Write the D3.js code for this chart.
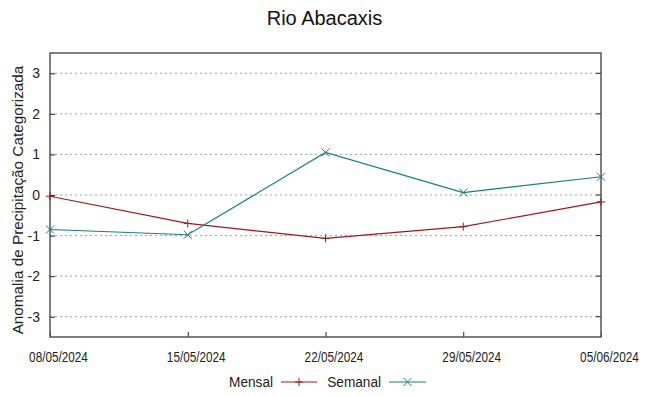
<!DOCTYPE html>
<html>
<head>
<meta charset="utf-8">
<script src="https://cdn.jsdelivr.net/npm/d3@7"></script>
<style>
  body { margin: 0; background: #fff; }
  svg { display: block; font-family: "Liberation Sans", Arial, sans-serif; }
</style>
</head>
<body>
<div id="chart"></div>
<script>
// Data
const dates = ['08/05/2024', '15/05/2024', '22/05/2024', '29/05/2024', '05/06/2024'];
const mensal = [-0.03, -0.70, -1.07, -0.78, -0.17];
const semanal = [-0.85, -0.98, 1.05, 0.06, 0.45];
const yTicks = [-3, -2, -1, 0, 1, 2, 3];

const width = 649, height = 396;
const margin = { top: 53, right: 48, bottom: 59, left: 50 };

const svg = d3.select('#chart').append('svg')
  .attr('width', width).attr('height', height);

const x = d3.scalePoint().domain(dates).range([margin.left, width - margin.right]);
const y = d3.scaleLinear().domain([-3.5, 3.5]).range([height - margin.bottom, margin.top]);

// Grid
svg.append('g').selectAll('line').data(yTicks).join('line')
  .attr('x1', margin.left).attr('x2', width - margin.right)
  .attr('y1', d => y(d)).attr('y2', d => y(d))
  .attr('stroke', '#a0a0a0').attr('stroke-width', 1)
  .attr('stroke-dasharray', '2,3');

// Axes (plain hyphen for negatives, like the original)
const yAxis = svg.append('g')
  .attr('transform', `translate(${margin.left},0)`)
  .call(d3.axisLeft(y).tickValues(yTicks).tickFormat(d => String(d)).tickSize(-5).tickPadding(10));
yAxis.select('.domain').remove();
yAxis.selectAll('text').attr('font-size', 14).attr('fill', '#222')
  .attr('font-family', '"Liberation Sans", Arial, sans-serif');
yAxis.selectAll('line').attr('stroke', '#222');

const xAxis = svg.append('g')
  .attr('transform', `translate(0,${height - margin.bottom})`)
  .call(d3.axisBottom(x).tickSize(-5).tickPadding(15));
xAxis.select('.domain').remove();
// condensed date labels, sitting a little right of their ticks
xAxis.selectAll('text').attr('font-size', 14).attr('fill', '#222')
  .attr('font-family', '"Liberation Sans", sans-serif')
  .attr('transform', 'translate(8,0) scale(0.84,1)');
xAxis.selectAll('line').attr('stroke', '#222');

// Right-side ticks mirror
svg.append('g').selectAll('line').data(yTicks).join('line')
  .attr('x1', width - margin.right - 5).attr('x2', width - margin.right)
  .attr('y1', d => y(d)).attr('y2', d => y(d))
  .attr('stroke', '#222');

// Frame
svg.append('rect')
  .attr('x', margin.left).attr('y', margin.top)
  .attr('width', width - margin.left - margin.right)
  .attr('height', height - margin.top - margin.bottom)
  .attr('fill', 'none').attr('stroke', '#555').attr('stroke-width', 1.5);

// Series
const series = [
  { name: 'Mensal', values: mensal, color: '#a01818', marker: 'plus' },
  { name: 'Semanal', values: semanal, color: '#138080', marker: 'cross' }
];

const line = d3.line().x((d, i) => x(dates[i])).y(d => y(d));

function marker(g, type, cx, cy, color) {
  const s = 4;
  if (type === 'plus') {
    g.append('path').attr('d', `M${cx - s},${cy}H${cx + s}M${cx},${cy - s}V${cy + s}`)
      .attr('stroke', color).attr('stroke-width', 1).attr('fill', 'none');
  } else {
    g.append('path').attr('d', `M${cx - s},${cy - s}L${cx + s},${cy + s}M${cx - s},${cy + s}L${cx + s},${cy - s}`)
      .attr('stroke', color).attr('stroke-width', 1).attr('fill', 'none');
  }
}

series.forEach(s => {
  const g = svg.append('g');
  g.append('path').datum(s.values)
    .attr('d', line).attr('fill', 'none')
    .attr('stroke', s.color).attr('stroke-width', 1.2);
  s.values.forEach((v, i) => marker(g, s.marker, x(dates[i]), y(v), s.color));
});

// Title
svg.append('text')
  .attr('x', width / 2).attr('y', 25)
  .attr('text-anchor', 'middle').attr('font-size', 20).attr('fill', '#111')
  .text('Rio Abacaxis');

// Y label
svg.append('text')
  .attr('transform', `translate(23,${(margin.top + height - margin.bottom) / 2 + 5}) rotate(-90)`)
  .attr('text-anchor', 'middle').attr('font-size', 15.3).attr('fill', '#222')
  .text('Anomalia de Precipitação Categorizada');

// Legend
const legY = 382;
const legend = [
  { label: 'Mensal', tx: 273, lx1: 281, lx2: 317 },
  { label: 'Semanal', tx: 381, lx1: 389, lx2: 426 }
];
legend.forEach((l, i) => {
  const s = series[i];
  svg.append('text')
    .attr('transform', `translate(${l.tx},${legY + 5}) scale(0.88,1)`)
    .attr('text-anchor', 'end').attr('font-size', 15.5).attr('fill', '#222')
    .text(l.label);
  svg.append('line').attr('x1', l.lx1).attr('x2', l.lx2)
    .attr('y1', legY).attr('y2', legY)
    .attr('stroke', s.color).attr('stroke-width', 1.2);
  marker(svg, s.marker, (l.lx1 + l.lx2) / 2, legY, s.color);
});
</script>
</body>
</html>
